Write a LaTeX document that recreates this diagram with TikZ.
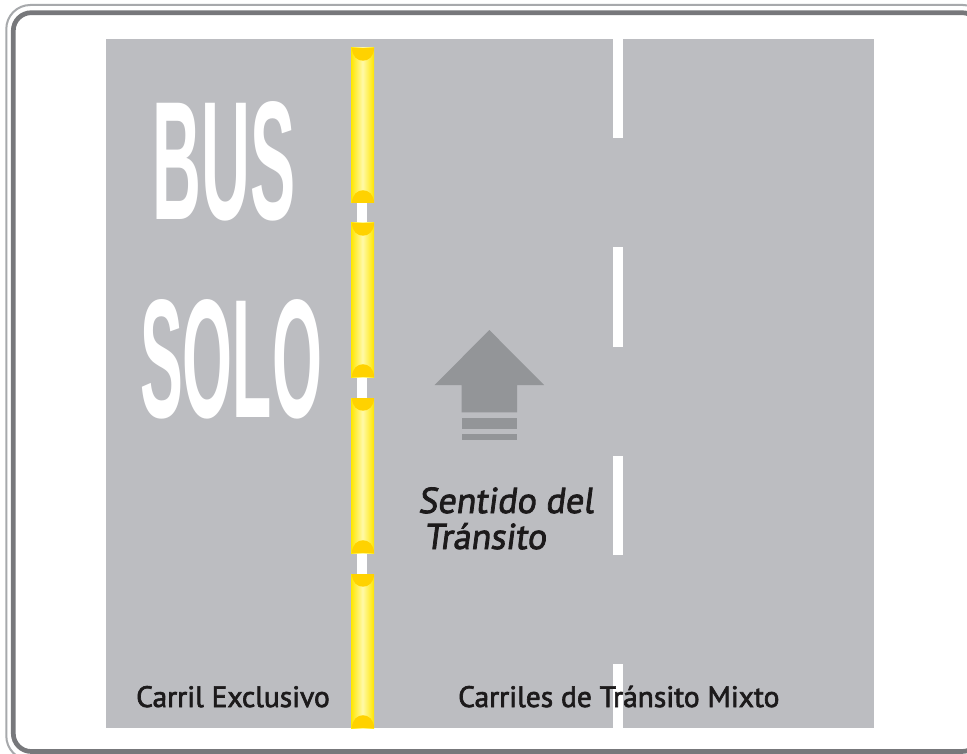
\documentclass[tikz,border=0pt]{standalone}
\usepackage{fontspec}
\setmainfont{PT Sans}
\newfontfamily\labelfont[FakeBold=2.2]{PT Sans}
\newfontfamily\dirfont[FakeBold=2.2,FakeSlant=0.13]{PT Sans}
\newfontfamily\signfont{Liberation Sans}
\definecolor{road}{HTML}{BCBDC1}
\definecolor{framedark}{HTML}{77787B}
\definecolor{framelight}{HTML}{A7A9AC}
\definecolor{ylw}{HTML}{FFE600}
\definecolor{ylwlight}{HTML}{FFF9A8}
\definecolor{ylwcap}{HTML}{FFD200}
\definecolor{arrowgray}{HTML}{939598}
\definecolor{txt}{HTML}{1C1A1B}
\tikzset{
  lanelabel/.style={anchor=base west, inner sep=0pt, text=txt, font=\labelfont\fontsize{29.5}{34}\selectfont},
  bigword/.style={anchor=base, inner sep=0pt, text=white, font=\signfont\bfseries\fontsize{100}{100}\selectfont},
  dirlabel/.style={anchor=base west, inner sep=0pt, text=txt, align=left, font=\dirfont\fontsize{36}{37}\selectfont},
}
\begin{document}
\begin{tikzpicture}[x=1pt,y=-1pt]
\useasboundingbox (0,0) rectangle (967,754);
\clip (0,0) rectangle (967,754);
\fill[white] (0,0) rectangle (967,754);
% frame
\draw[framelight, line width=2pt, rounded corners=24pt] (6.3,5) rectangle (987,760);
\draw[framedark, line width=4.7pt, rounded corners=18pt] (13.3,12.7) rectangle (980,751.5);
% road
\fill[road] (106,39) rectangle (874,728);
% white lane dashes
\foreach \a/\b in {39/138, 247/347, 456/555, 664/728}
  \fill[white] (613,\a) rectangle (623,\b);
% white strip under yellow line gaps
\fill[white] (357,200) rectangle (367,580);
% yellow segments
\foreach \a/\b in {48/203, 223/377, 398/553, 574/728}{
  \shade[left color=ylw, right color=ylw, middle color=ylwlight] (351,\a) rectangle (374,\b);
  \fill[ylwcap] (351.5,\a) .. controls (351.5,\a+17) and (373.5,\a+17) .. (373.5,\a) -- cycle;
  \fill[ylwcap] (351.5,\b) .. controls (351.5,\b-17) and (373.5,\b-17) .. (373.5,\b) -- cycle;
}
% big words
\node[bigword] (bus) at (224.5,220) {\resizebox{143pt}{118pt}{BUS}};
\node[bigword] (solo) at (231,417) {\resizebox{182pt}{118pt}{SOLO}};
% direction arrow
\fill[arrowgray] (489.3,330) -- (544,385) -- (517,385) -- (517,412.3) -- (461.7,412.3) -- (461.7,385) -- (434.7,385) -- cycle;
\fill[arrowgray] (461.7,417.7) rectangle (517,429);
\fill[arrowgray] (461.7,434.3) rectangle (517,440);
% labels
\node[dirlabel] (dir1) at (418,513) {Sentido del};
\node[dirlabel] (dir2) at (424,549) {Tránsito};
\node[lanelabel] (excl) at (136,707) {Carril Exclusivo};
\node[lanelabel] (mixto) at (458,707) {Carriles de Tránsito Mixto};
\end{tikzpicture}
\end{document}
